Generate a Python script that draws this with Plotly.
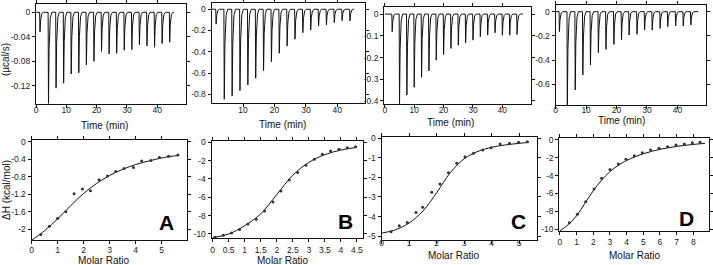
import plotly.graph_objects as go

# ---------------- raw thermograms (top row) ----------------
inj_time_A = [1.2, 4.0, 6.5, 9.0, 11.5, 14.0, 16.5, 19.0, 21.5, 24.0, 26.5, 29.0, 31.5, 34.0, 36.5, 39.0, 41.5, 44.0]
peak_A = [-0.032, -0.149, -0.124, -0.116, -0.101, -0.099, -0.086, -0.080, -0.064, -0.068, -0.067, -0.062,
          -0.061, -0.053, -0.055, -0.057, -0.051, -0.049]
end_A = 45.5

inj_time_B = [1.3, 3.9, 6.4, 8.9, 11.4, 13.9, 16.4, 18.9, 21.4, 23.9, 26.4, 28.9, 31.4, 33.9, 36.4, 38.9, 41.4, 43.9]
peak_B = [-0.14, -0.847, -0.816, -0.765, -0.712, -0.649, -0.577, -0.493, -0.414, -0.345, -0.282, -0.220,
          -0.195, -0.157, -0.147, -0.125, -0.107, -0.110]
end_B = 45.3

inj_time_C = [2.4, 4.9, 7.4, 9.9, 12.4, 14.9, 17.4, 19.9, 22.4, 24.9, 27.4, 29.9, 32.4, 34.9, 37.4, 39.9, 42.4, 44.9]
peak_C = [-0.081, -0.412, -0.373, -0.337, -0.291, -0.262, -0.212, -0.186, -0.158, -0.143, -0.132, -0.120,
          -0.104, -0.097, -0.086, -0.097, -0.097, -0.094]
end_C = 47.0

inj_time_D = [1.1, 3.7, 6.3, 8.8, 11.3, 13.9, 16.4, 19.0, 21.5, 24.0, 26.6, 29.1, 31.6, 34.2, 36.7, 39.3, 41.8, 44.3]
peak_D = [-0.165, -0.770, -0.647, -0.523, -0.440, -0.339, -0.311, -0.270, -0.234, -0.193, -0.187, -0.152,
          -0.152, -0.138, -0.124, -0.118, -0.118, -0.110]
end_D = 46.8

raw_ytick_A = [0, -0.04, -0.08, -0.12]
raw_ytext_A = ["0", "-0.04", "-0.08", "-0.12"]
raw_ytick_B = [0, -0.2, -0.4, -0.6, -0.8]
raw_ytext_B = ["0", "-0.2", "-0.4", "-0.6", "-0.8"]
raw_ytick_C = [0, -0.1, -0.2, -0.3, -0.4]
raw_ytext_C = ["0", "-0.1", "-0.2", "-0.3", "-0.4"]
raw_ytick_D = [0, -0.2, -0.4, -0.6]
raw_ytext_D = ["0", "-0.2", "-0.4", "-0.6"]
time_ticks = [0, 10, 20, 30, 40]

# ---------------- integrated heats (bottom row) ----------------
ratio_A = [0.35, 0.68, 1.0, 1.31, 1.63, 1.95, 2.26, 2.59, 2.91, 3.23, 3.55, 3.91, 4.23, 4.58, 4.91, 5.26, 5.62]
dH_A = [-2.12, -1.93, -1.75, -1.60, -1.19, -1.08, -1.12, -0.87, -0.78, -0.68, -0.61, -0.59, -0.44, -0.43,
        -0.36, -0.33, -0.30]
fit_x_A = [0, 0.5, 1, 1.5, 2, 2.5, 3, 3.5, 4, 4.5, 5, 5.65]
fit_y_A = [-2.25, -2.03, -1.76, -1.46, -1.18, -0.95, -0.77, -0.63, -0.52, -0.44, -0.37, -0.31]

ratio_B = [0.07, 0.33, 0.59, 0.84, 1.10, 1.36, 1.62, 1.88, 2.13, 2.39, 2.65, 2.91, 3.17, 3.42, 3.68, 3.94, 4.20, 4.46]
dH_B = [-10.35, -10.15, -9.9, -9.5, -8.9, -8.4, -7.5, -6.5, -5.3, -4.1, -3.3, -2.5, -1.85, -1.3, -0.95,
        -0.75, -0.6, -0.5]
fit_x_B = [0, 0.5, 1, 1.5, 2, 2.5, 3, 3.5, 4, 4.5]
fit_y_B = [-10.4, -10.0, -9.1, -7.8, -5.7, -3.6, -2.2, -1.35, -0.85, -0.55]

ratio_C = [0.34, 0.64, 0.93, 1.25, 1.49, 1.82, 2.12, 2.43, 2.73, 3.03, 3.34, 3.68, 3.98, 4.31, 4.65, 4.98, 5.30]
dH_C = [-4.78, -4.47, -4.30, -3.79, -3.53, -2.76, -2.34, -1.76, -1.28, -0.94, -0.77, -0.60, -0.48, -0.29,
        -0.26, -0.20, -0.18]
fit_x_C = [0, 0.5, 1, 1.5, 2, 2.5, 3, 3.5, 4, 4.5, 5, 5.35]
fit_y_C = [-4.85, -4.68, -4.33, -3.72, -2.78, -1.75, -1.05, -0.67, -0.46, -0.34, -0.26, -0.21]

ratio_D = [0.56, 1.04, 1.54, 2.04, 2.50, 3.00, 3.50, 3.96, 4.46, 4.94, 5.44, 5.94, 6.46, 6.96, 7.46, 7.94, 8.40]
dH_D = [-9.29, -8.35, -6.93, -5.50, -4.30, -3.30, -2.70, -2.17, -1.76, -1.42, -1.12, -0.94, -0.75, -0.56,
        -0.45, -0.30, -0.26]
fit_x_D = [0, 0.5, 1, 1.5, 2, 2.5, 3, 3.5, 4, 5, 6, 7, 8, 8.7]
fit_y_D = [-10.2, -9.5, -8.5, -7.1, -5.7, -4.5, -3.55, -2.85, -2.3, -1.55, -1.05, -0.72, -0.5, -0.38]

dH_tick_A = [0, -0.4, -0.8, -1.2, -1.6, -2]
dH_text_A = ["0", "-0.4", "-0.8", "-1.2", "-1.6", "-2"]
dH_tick_B = [0, -2, -4, -6, -8, -10]
dH_tick_C = [0, -1, -2, -3, -4, -5]
dH_tick_D = [0, -2, -4, -6, -8, -10]
ratio_tick_A = [0, 1, 2, 3, 4, 5]
ratio_tick_B = [0, 0.5, 1, 1.5, 2, 2.5, 3, 3.5, 4, 4.5]
ratio_tick_C = [0, 1, 2, 3, 4, 5]
ratio_tick_D = [0, 1, 2, 3, 4, 5, 6, 7, 8]
panel_letters = ["A", "B", "C", "D"]

FONT = "Arial, Liberation Sans, Helvetica, sans-serif"
W, H = 713, 265


def thermogram(times, peaks, t_end):
    xs, ys = [0.0], [0.0]
    for t, p in zip(times, peaks):
        xs += [t, t + 0.12, t + 0.32, t + 0.7, t + 1.2]
        ys += [0.0, p, p * 0.4, p * 0.07, 0.0]
    xs.append(t_end)
    ys.append(0.0)
    return xs, ys


def px_dom(a, b, total, flip=False):
    if flip:
        return [1 - b / total, 1 - a / total]
    return [a / total, b / total]


fig = go.Figure()

raw_sets = [(inj_time_A, peak_A, end_A), (inj_time_B, peak_B, end_B),
            (inj_time_C, peak_C, end_C), (inj_time_D, peak_D, end_D)]
for i, (t, p, e) in enumerate(raw_sets):
    xs, ys = thermogram(t, p, e)
    n = i + 1
    fig.add_trace(go.Scatter(x=xs, y=ys, mode="lines", line=dict(color="#111", width=1),
                             xaxis=f"x{'' if n == 1 else n}", yaxis=f"y{'' if n == 1 else n}",
                             showlegend=False, hoverinfo="skip"))

iso_sets = [(ratio_A, dH_A, fit_x_A, fit_y_A), (ratio_B, dH_B, fit_x_B, fit_y_B),
            (ratio_C, dH_C, fit_x_C, fit_y_C), (ratio_D, dH_D, fit_x_D, fit_y_D)]
for i, (rx, ry, fx, fy) in enumerate(iso_sets):
    n = i + 5
    fig.add_trace(go.Scatter(x=fx, y=fy, mode="lines", line=dict(color="#111", width=1, shape="spline"),
                             xaxis=f"x{n}", yaxis=f"y{n}", showlegend=False, hoverinfo="skip"))
    fig.add_trace(go.Scatter(x=rx, y=ry, mode="markers",
                             marker=dict(color="#333", size=3, symbol="circle"),
                             xaxis=f"x{n}", yaxis=f"y{n}", showlegend=False, hoverinfo="skip"))

# panel boxes in pixels: (left, right, top, bottom)
boxes = [
    (36, 185.7, 4, 104), (211.7, 365, 3.3, 103.3), (384.3, 530.7, 6.7, 104), (555.7, 706, 5, 105),
    (31.7, 186.7, 140, 240), (211.7, 363.3, 141, 238.3), (381.7, 536.7, 137.3, 240), (559.3, 709.3, 138.3, 231),
]
xranges = [[0, 49.4], [0.02, 48.8], [-0.16, 49.66], [0, 49.4],
           [0, 5.96], [-0.03, 4.7], [0, 5.64], [-0.04, 8.96]]
yranges = [[-0.15, 0.0136], [-0.885, 0.056], [-0.414, 0.034], [-0.771, 0.055],
           [-2.245, 0.04], [-10.47, 0.14], [-5.2, 0.05], [-10.22, 0.19]]
xlabel_shift = [-5, -5, -5, -6, -1, 0, -8, 0]
xticks = [time_ticks] * 4 + [ratio_tick_A, ratio_tick_B, ratio_tick_C, ratio_tick_D]
yticks = [(raw_ytick_A, raw_ytext_A), (raw_ytick_B, raw_ytext_B), (raw_ytick_C, raw_ytext_C),
          (raw_ytick_D, raw_ytext_D), (dH_tick_A, dH_text_A), (dH_tick_B, [str(v) for v in dH_tick_B]),
          (dH_tick_C, [str(v) for v in dH_tick_C]), (dH_tick_D, [str(v) for v in dH_tick_D])]

common = dict(showline=True, linecolor="#111", linewidth=1.3, mirror="ticks", ticks="outside",
              ticklen=3, tickwidth=1, tickcolor="#111", showgrid=False, zeroline=False,
              tickfont=dict(family=FONT, size=8.5, color="#222"), fixedrange=True, automargin=False)

layout = {}
for i in range(8):
    n = i + 1
    sfx = "" if n == 1 else str(n)
    l, r, t, b = boxes[i]
    layout[f"xaxis{sfx}"] = dict(common, domain=px_dom(l, r, W), range=xranges[i],
                                 anchor=f"y{sfx}", tickvals=xticks[i],
                                 ticktext=[str(v) for v in xticks[i]],
                                 ticklabelstandoff=xlabel_shift[i])
    layout[f"yaxis{sfx}"] = dict(common, domain=px_dom(t, b, H, flip=True), range=yranges[i],
                                 anchor=f"x{sfx}", tickvals=yticks[i][0], ticktext=yticks[i][1])

annotations = []
CENTER = dict(xanchor="center", yanchor="middle", showarrow=False)
time_title_pos = [(104, 125), (282, 124), (451, 122), (621, 120.5)]
for x, y in time_title_pos:
    annotations.append(dict(CENTER, text="Time (min)", x=x / W, y=1 - y / H, xref="paper", yref="paper",
                            font=dict(family=FONT, size=10, color="#111")))
ratio_title_pos = [(104, 260), (283, 260), (454, 255), (635, 255)]
for x, y in ratio_title_pos:
    annotations.append(dict(CENTER, text="Molar Ratio", x=x / W, y=1 - y / H, xref="paper", yref="paper",
                            font=dict(family=FONT, size=10, color="#111")))
annotations.append(dict(CENTER, text="(µcal/s)", x=6 / W, y=1 - 60 / H, xref="paper", yref="paper",
                        textangle=-90, font=dict(family=FONT, size=10, color="#111")))
annotations.append(dict(CENTER, text="ΔH (kcal/mol)", x=6 / W, y=1 - 190 / H, xref="paper", yref="paper",
                        textangle=-90, font=dict(family=FONT, size=10, color="#111")))
letter_pos = [(0.87, 0.18), (0.88, 0.17), (0.88, 0.18), (0.85, 0.14)]
for i, (lx, ly) in enumerate(letter_pos):
    n = i + 5
    annotations.append(dict(CENTER, text=f"<b>{panel_letters[i]}</b>", x=lx, y=ly, xref=f"x{n} domain",
                            yref=f"y{n} domain",
                            font=dict(family=FONT, size=21, color="#000")))

fig.update_layout(**layout)
fig.update_layout(width=W, height=H, margin=dict(l=0, r=0, t=0, b=0, autoexpand=False),
                  paper_bgcolor="white", plot_bgcolor="white", annotations=annotations,
                  showlegend=False)

fig.write_html("out.html", config={"displayModeBar": False},
               post_script="document.body.style.margin='0';document.body.style.padding='0';")
